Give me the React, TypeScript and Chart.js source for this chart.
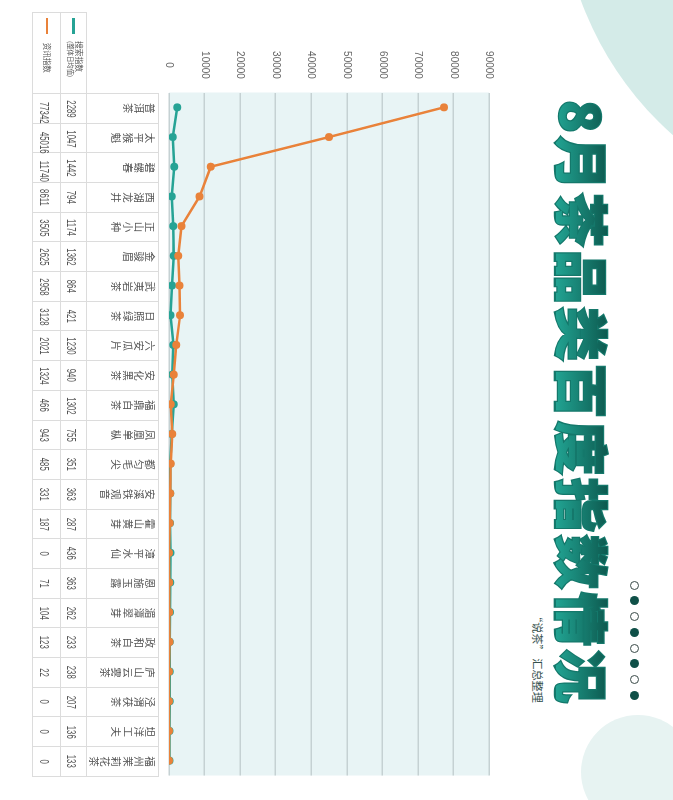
import React, { useEffect, useRef } from "react";
import { Chart, registerables } from "chart.js";
Chart.register(...registerables);

const categories = ["普洱茶", "太平猴魁", "碧螺春", "西湖龙井", "正山小种", "金骏眉", "武夷岩茶", "日照绿茶", "六安瓜片", "安化黑茶", "福鼎白茶", "凤凰单枞", "都匀毛尖", "安溪铁观音", "霍山黄芽", "漳平水仙", "恩施玉露", "湄潭翠芽", "政和白茶", "庐山云雾茶", "泾渭茯茶", "坦洋工夫", "福州茉莉花茶"];
const searchIndex = [2289, 1047, 1442, 794, 1174, 1362, 864, 421, 1230, 940, 1302, 755, 351, 363, 287, 436, 363, 262, 233, 238, 207, 136, 133];
const infoIndex = [77342, 45016, 11740, 8611, 3505, 2625, 2958, 3128, 2021, 1324, 466, 943, 485, 331, 187, 0, 71, 104, 123, 22, 0, 0, 0];
const valueTicks = [0, 10000, 20000, 30000, 40000, 50000, 60000, 70000, 80000, 90000];
const titleText = "8月茶品类百度指数情况";
const subtitleText = "“说茶” 汇总整理";
const searchLabel = "搜索指数";
const searchSub = "(整体日均值)";
const infoLabel = "资讯指数";
const dotPattern = [0, 1, 0, 1, 0, 1, 0, 1];

const TEAL = "#26a395";
const ORANGE = "#e9823a";
const CJK = '"Noto Sans CJK SC", "Noto Sans", sans-serif';

const bgPlugin = {
  id: "plotBg",
  beforeDraw(chart: any) {
    const { ctx, chartArea: a } = chart;
    ctx.save();
    ctx.fillStyle = "#e8f4f5";
    ctx.fillRect(a.left, a.top, a.right - a.left, a.bottom - a.top);
    ctx.restore();
  },
};

function LineChart() {
  const ref = useRef<HTMLCanvasElement | null>(null);
  useEffect(() => {
    if (!ref.current) return;
    const chart = new Chart(ref.current, {
      type: "line",
      data: {
        labels: categories,
        datasets: [
          {
            label: searchLabel + searchSub,
            data: searchIndex,
            borderColor: TEAL,
            backgroundColor: TEAL,
            pointBackgroundColor: TEAL,
            borderWidth: 2.5,
            pointRadius: 4,
            pointBorderWidth: 0,
            tension: 0,
            order: 1,
          },
          {
            label: infoLabel,
            data: infoIndex,
            borderColor: ORANGE,
            backgroundColor: ORANGE,
            pointBackgroundColor: ORANGE,
            borderWidth: 2.5,
            pointRadius: 4,
            pointBorderWidth: 0,
            tension: 0,
            order: 0,
          },
        ],
      },
      options: {
        responsive: false,
        animation: false,
        layout: { padding: { left: 0, right: 9.5, top: 21, bottom: 21 } },
        plugins: { legend: { display: false }, tooltip: { enabled: false } },
        scales: {
          x: { type: "category", display: false, offset: true },
          y: {
            min: 0,
            max: 90000,
            afterBuildTicks: (s: any) => {
              s.ticks = valueTicks.map((v) => ({ value: v }));
            },
            afterFit: (s: any) => {
              s.width = 52.5;
            },
            ticks: {
              crossAlign: "center",
              padding: 13.6,
              color: "#666",
              font: { family: '"Liberation Sans", Arial, sans-serif', size: 10 },
              callback: (v: any) => String(v),
            },
            grid: { color: "#c5d1d3", lineWidth: 1.5, drawTicks: false },
            border: { display: false },
          },
        },
      } as any,
      plugins: [bgPlugin],
    });
    return () => chart.destroy();
  }, []);
  return (
    <canvas
      ref={ref}
      width={745}
      height={362}
      style={{ position: "absolute", left: 40, top: 163, width: 745, height: 362 }}
    />
  );
}

const border = "1px solid #dcdcdc";

function DataTable() {
  const numStyle: React.CSSProperties = {
    display: "inline-block",
    fontFamily: '"Liberation Sans", Arial, sans-serif',
    fontSize: 13.5,
    transform: "scaleX(0.58)",
    color: "#555",
    whiteSpace: "nowrap",
  };
  return (
    <table
      style={{
        position: "absolute",
        left: 11.7,
        top: 513.7,
        borderCollapse: "collapse",
        tableLayout: "fixed",
        width: 764.3,
        fontFamily: CJK,
      }}
    >
      <colgroup>
        <col style={{ width: 81.3 }} />
        {categories.map((c) => (
          <col key={c} style={{ width: 29.7 }} />
        ))}
      </colgroup>
      <tbody>
        <tr style={{ height: 72 }}>
          <td style={{ border: "none", padding: 0 }} />
          {categories.map((c) => (
            <td key={c} style={{ border, padding: 0, verticalAlign: "top", textAlign: "center" }}>
              <div
                style={{
                  width: 11,
                  margin: "2px auto 0",
                  fontSize: 10.5,
                  lineHeight: "11.3px",
                  color: "#555",
                  wordBreak: "break-all",
                }}
              >
                {c}
              </div>
            </td>
          ))}
        </tr>
        <tr style={{ height: 26.6 }}>
          <td style={{ border, padding: 0, position: "relative" }}>
            <div style={{ position: "absolute", left: 5.3, top: 11.8, width: 16, height: 2.7, background: TEAL }} />
            <div style={{ position: "absolute", left: 28.3, top: 3, color: "#555", lineHeight: 1.15, whiteSpace: "nowrap" }}>
              <div style={{ fontSize: 7.8 }}>{searchLabel}</div>
              <div style={{ fontSize: 6.4 }}>{searchSub}</div>
            </div>
          </td>
          {searchIndex.map((v, i) => (
            <td key={i} style={{ border, padding: 0, textAlign: "center", verticalAlign: "middle" }}>
              <span style={numStyle}>{v}</span>
            </td>
          ))}
        </tr>
        <tr style={{ height: 27.4 }}>
          <td style={{ border, padding: 0, position: "relative" }}>
            <div style={{ position: "absolute", left: 5.3, top: 11.3, width: 16, height: 2.7, background: ORANGE }} />
            <div style={{ position: "absolute", left: 30, top: 8, fontSize: 7.5, color: "#555", whiteSpace: "nowrap", lineHeight: 1.2 }}>
              {infoLabel}
            </div>
          </td>
          {infoIndex.map((v, i) => (
            <td key={i} style={{ border, padding: 0, textAlign: "center", verticalAlign: "middle" }}>
              <span style={numStyle}>{v}</span>
            </td>
          ))}
        </tr>
      </tbody>
    </table>
  );
}

const titleBase: React.CSSProperties = {
  position: "absolute",
  left: 100,
  top: 63,
  fontFamily: CJK,
  fontSize: 54,
  lineHeight: "54px",
  fontWeight: 900,
  letterSpacing: 3,
  whiteSpace: "nowrap",
};

export default function App() {
  return (
    <div style={{ position: "fixed", left: 0, top: 0, width: 673, height: 800, overflow: "hidden", background: "#fff" }}>
      <div
        style={{
          position: "absolute",
          left: 0,
          top: 0,
          width: 800,
          height: 673,
          transformOrigin: "0 0",
          transform: "translateX(673px) rotate(90deg)",
          background: "#fff",
          overflow: "hidden",
        }}
      >
        <div style={{ position: "absolute", left: -452, top: -559, width: 672, height: 672, borderRadius: "50%", background: "#d4ebe8" }} />
        <div style={{ position: "absolute", left: 715, top: -22, width: 114, height: 114, borderRadius: "50%", background: "#e7f3f2" }} />
        <div style={{ ...titleBase, color: "#14786b", WebkitTextStroke: "2.4px #14786b" }}>{titleText}</div>
        <div
          style={{
            ...titleBase,
            background: "linear-gradient(to bottom, #0c564c, #21a392)",
            WebkitBackgroundClip: "text",
            backgroundClip: "text",
            color: "transparent",
          }}
        >
          {titleText}
        </div>
        <div
          style={{
            position: "absolute",
            right: 97,
            top: 127,
            fontFamily: CJK,
            fontSize: 11.2,
            color: "#35504c",
            whiteSpace: "nowrap",
          }}
        >
          {subtitleText}
        </div>
        <div style={{ position: "absolute", left: 580.5, top: 33.5, display: "flex" }}>
          {dotPattern.map((f, i) => (
            <div
              key={i}
              style={{
                width: 9,
                height: 9,
                boxSizing: "border-box",
                borderRadius: "50%",
                marginRight: 6.8,
                background: f ? "#0f5048" : "#fff",
                border: f ? "none" : "1px solid #3a4a48",
              }}
            />
          ))}
        </div>
        <LineChart />
        <DataTable />
      </div>
    </div>
  );
}
